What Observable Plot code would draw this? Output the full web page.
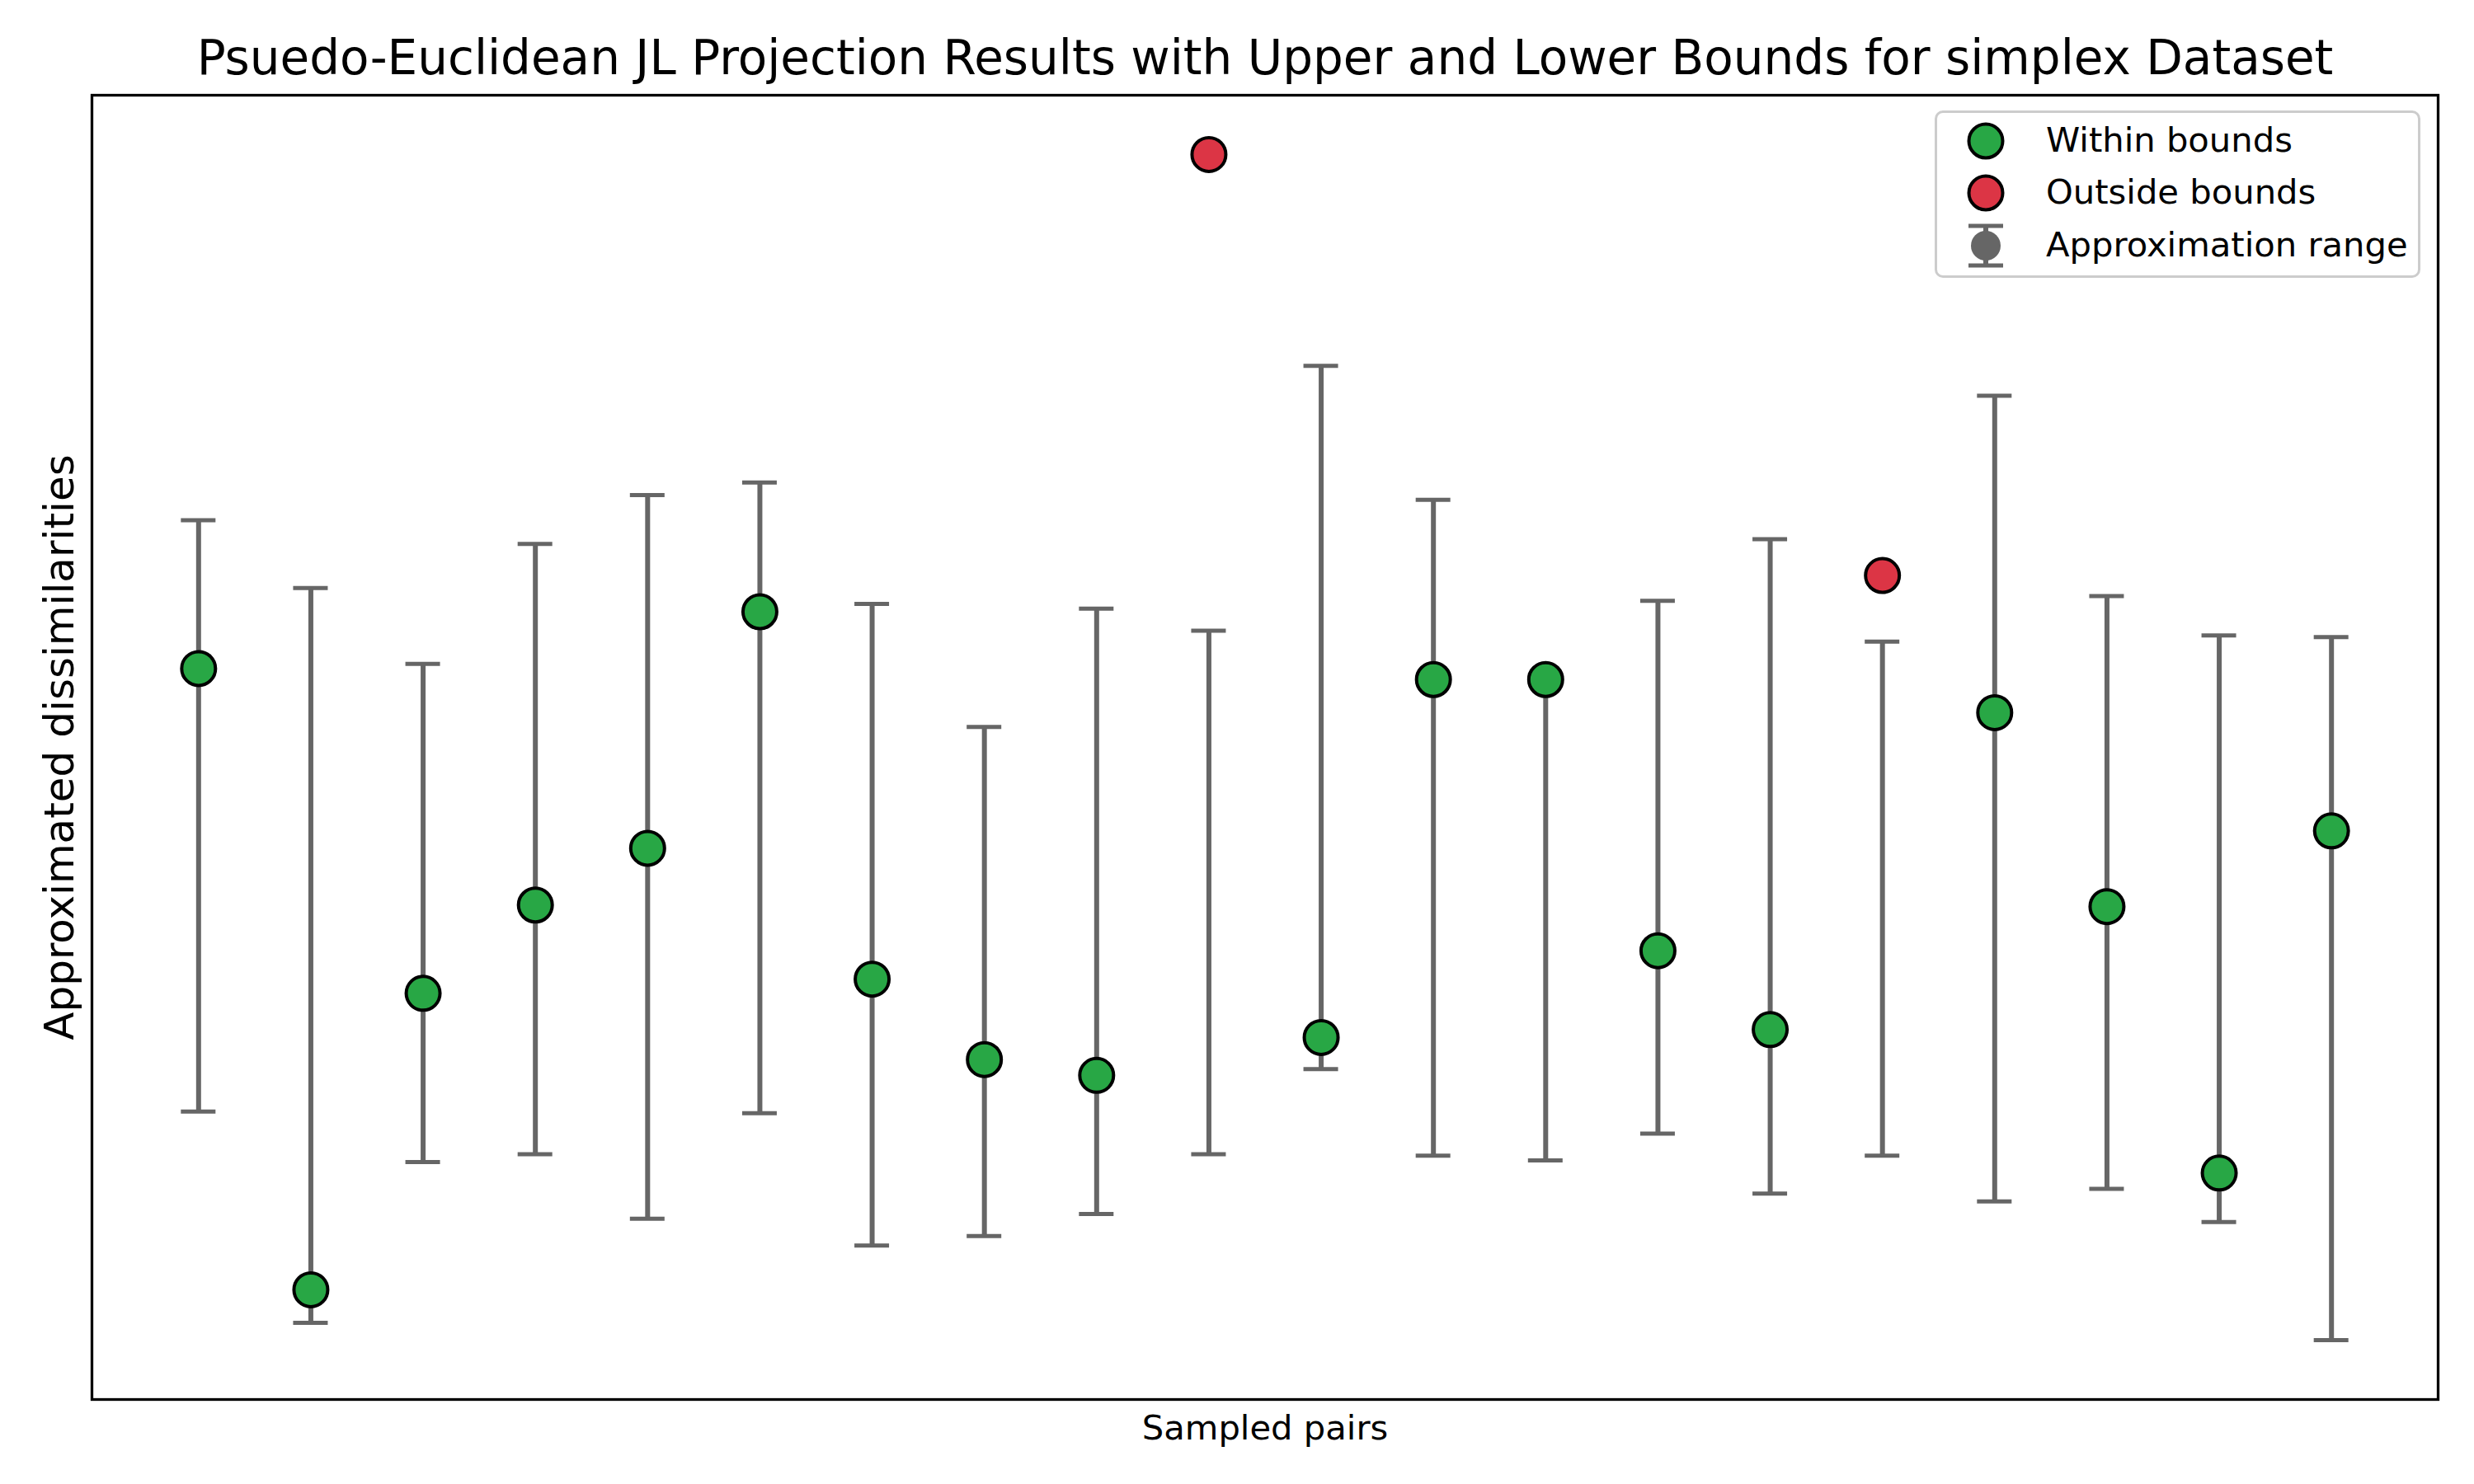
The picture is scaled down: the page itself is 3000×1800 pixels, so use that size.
<!DOCTYPE html>
<html>
<head>
<meta charset="utf-8">
<script src="https://cdn.jsdelivr.net/npm/d3@7"></script>
<script src="https://cdn.jsdelivr.net/npm/@observablehq/plot@0.6"></script>
<style>
  html, body { margin: 0; padding: 0; background: white; }
  #wrap { position: relative; width: 3000px; height: 1800px; font-family: "DejaVu Sans", sans-serif; }
  .legend { position: absolute; left: 2346px; top: 134px; width: 589px; height: 203px; box-sizing: border-box;
            border: 3.3px solid #cccccc; border-radius: 10px; background: rgba(255,255,255,0.8); }
  .row { position: absolute; left: 0; height: 64px; width: 100%; }
  .row svg { position: absolute; left: 29px; top: 0; }
  .row span { position: absolute; left: 132px; top: 6px; font-size: 41.7px; line-height: 50px; color: black; white-space: nowrap; }
</style>
</head>
<body>
<div id="wrap"></div>
<script>
// Sampled pair indices
const pairIndex = [0, 1, 2, 3, 4, 5, 6, 7, 8, 9, 10, 11, 12, 13, 14, 15, 16, 17, 18, 19];
// Approximated dissimilarities (arbitrary units; no tick labels in the original)
const approx = [4.57, 0.63, 2.51, 3.07, 3.43, 4.93, 2.60, 2.09, 1.99, 7.83, 2.23, 4.50, 4.50, 2.78, 2.28, 5.16, 4.29, 3.06, 1.37, 3.54];
// Upper bounds
const upper = [5.51, 5.08, 4.60, 5.36, 5.67, 5.75, 4.98, 4.20, 4.95, 4.81, 6.49, 5.64, 4.53, 5.00, 5.39, 4.74, 6.30, 5.03, 4.78, 4.77];
// Lower bounds
const lower = [1.76, 0.42, 1.44, 1.49, 1.08, 1.75, 0.91, 0.97, 1.11, 1.49, 2.03, 1.48, 1.45, 1.62, 1.24, 1.48, 1.19, 1.27, 1.06, 0.31];

const titleText = "Psuedo-Euclidean JL Projection Results with Upper and Lower Bounds for simplex Dataset";
const xLabel = "Sampled pairs";
const yLabel = "Approximated dissimilarities";
const legendLabels = ["Within bounds", "Outside bounds", "Approximation range"];

const GREEN = "#28a745", RED = "#dc3545", BAR = "#666666";

const data = pairIndex.map((i, k) => ({
  i, v: approx[k], hi: upper[k], lo: lower[k],
  inside: approx[k] >= lower[k] && approx[k] <= upper[k]
}));

const n = pairIndex.length;
const xDomain = [-(n - 1) * 0.05, (n - 1) * 1.05];
const all = [...approx, ...upper, ...lower];
const [ymin, ymax] = d3.extent(all);
const pad = (ymax - ymin) * 0.05;
const yDomain = [ymin - pad, ymax + pad];

const W = 3000, H = 1800;
const mL = 111, mR = 44, mT = 115, mB = 103;
const capHalf = 21 / ((W - mL - mR) / (xDomain[1] - xDomain[0]));

const chart = Plot.plot({
  width: W, height: H,
  marginLeft: mL, marginRight: mR, marginTop: mT, marginBottom: mB,
  style: { fontFamily: "DejaVu Sans", background: "white", overflow: "visible" },
  x: { domain: xDomain, axis: null },
  y: { domain: yDomain, axis: null },
  marks: [
    Plot.ruleX(data, { x: "i", y1: "lo", y2: "hi", stroke: BAR, strokeWidth: 6 }),
    Plot.ruleY(data, { y: "hi", x1: d => d.i - capHalf, x2: d => d.i + capHalf, stroke: BAR, strokeWidth: 5 }),
    Plot.ruleY(data, { y: "lo", x1: d => d.i - capHalf, x2: d => d.i + capHalf, stroke: BAR, strokeWidth: 5 }),
    Plot.dot(data, { x: "i", y: "v", r: 20.5, fill: d => d.inside ? GREEN : RED, stroke: "black", strokeWidth: 4 }),
    Plot.frame({ stroke: "black", strokeWidth: 3.3 }),
    Plot.text([titleText], { text: d => d, frameAnchor: "top", lineAnchor: "middle", textAnchor: "middle", dy: -44, fontSize: 58, fill: "black" }),
    Plot.text([xLabel], { text: d => d, frameAnchor: "bottom", lineAnchor: "middle", textAnchor: "middle", dy: 35, fontSize: 41.7, fill: "black" }),
    Plot.text([yLabel], { text: d => d, frameAnchor: "left", lineAnchor: "middle", textAnchor: "middle", rotate: -90, dx: -39, fontSize: 50, fill: "black" })
  ]
});

const wrap = document.getElementById("wrap");
wrap.appendChild(chart);

// Legend
const legend = document.createElement("div");
legend.className = "legend";
const swatches = [
  `<svg width="60" height="64"><circle cx="30" cy="32" r="20.5" fill="${GREEN}" stroke="black" stroke-width="4"/></svg>`,
  `<svg width="60" height="64"><circle cx="30" cy="32" r="20.5" fill="${RED}" stroke="black" stroke-width="4"/></svg>`,
  `<svg width="60" height="64"><circle cx="30" cy="32" r="18" fill="#555" fill-opacity="0.9"/>
     <line x1="30" x2="30" y1="8" y2="56" stroke="${BAR}" stroke-width="6"/>
     <line x1="9" x2="51" y1="8" y2="8" stroke="${BAR}" stroke-width="5"/>
     <line x1="9" x2="51" y1="56" y2="56" stroke="${BAR}" stroke-width="5"/></svg>`
];
const rowTops = [2, 65, 129];
legendLabels.forEach((lab, k) => {
  const row = document.createElement("div");
  row.className = "row";
  row.style.top = rowTops[k] + "px";
  row.innerHTML = swatches[k] + `<span>${lab}</span>`;
  legend.appendChild(row);
});
wrap.appendChild(legend);
</script>
</body>
</html>
